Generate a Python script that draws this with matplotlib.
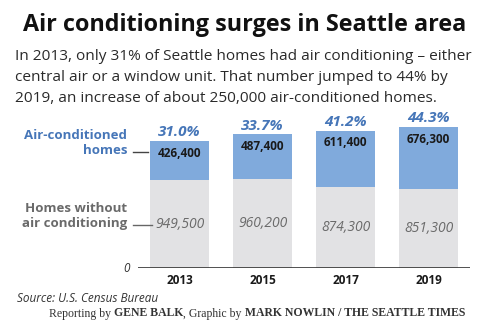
import matplotlib
matplotlib.use("Agg")
import matplotlib.pyplot as plt

years = ["2013", "2015", "2017", "2019"]
ac_homes = [426400, 487400, 611400, 676300]
no_ac_homes = [949500, 960200, 874300, 851300]
ac_pct = ["31.0%", "33.7%", "41.2%", "44.3%"]

BLUE = "#80aadc"
GRAY = "#e2e2e4"
BLUE_TXT = "#4676b8"
GRAY_TXT = "#6a6a6a"

W, H = 500, 328
fig = plt.figure(figsize=(W / 100, H / 100), dpi=100)

def fx(px):
    return px / W

def fy(py):
    return 1 - py / H

# axes: x from 138 to 470 px, baseline at y=268 px, scale 92.3 px per million
ymax = 1.6e6
ax_h = ymax * 92.3e-6
ax = fig.add_axes([fx(138), fy(268), (470 - 138) / W, ax_h / H])
ax.set_xlim(-0.5, 3.5)
ax.set_ylim(0, ymax)
for s in ax.spines.values():
    s.set_visible(False)
ax.set_xticks([])
ax.set_yticks([])
ax.axhline(0, color="#333333", lw=1.2, zorder=3)

x = list(range(len(years)))
ax.bar(x, no_ac_homes, width=0.72, color=GRAY, zorder=2)
ax.bar(x, ac_homes, width=0.72, bottom=no_ac_homes, color=BLUE, zorder=2)

font = "Open Sans"
for i in x:
    tot = no_ac_homes[i] + ac_homes[i]
    ax.text(i, tot + 0.02e6, ac_pct[i], ha="center", va="bottom", fontsize=11,
            fontweight="bold", style="italic", color=BLUE_TXT, family=font)
    ax.text(i, tot - 0.13e6, f"{ac_homes[i]:,}", ha="center", va="center", fontsize=8.5,
            fontweight="bold", color="#1a1a1a", family=font)
    ax.text(i, no_ac_homes[i] / 2, f"{no_ac_homes[i]:,}", ha="center", va="center",
            fontsize=10, style="italic", color=GRAY_TXT, family=font)
    ax.text(i, -0.07e6, years[i], ha="center", va="top", fontsize=8.5,
            fontweight="bold", color="#1a1a1a", family=font)

# zero label
fig.text(fx(130), fy(268), "0", ha="right", va="center", fontsize=8.5,
         style="italic", color="#333333", family=font)

# left labels with leader lines
fig.text(fx(127), fy(143), "Air-conditioned\nhomes", ha="right", va="center",
         fontsize=9.5, fontweight="bold", color=BLUE_TXT, family=font,
         linespacing=1.2, multialignment="right")
fig.text(fx(127), fy(216), "Homes without\nair conditioning", ha="right", va="center",
         fontsize=9.5, fontweight="bold", color=GRAY_TXT, family=font,
         linespacing=1.2, multialignment="right")
fig.add_artist(plt.Line2D([fx(133), fx(148)], [fy(152), fy(152)], color="#444444", lw=1))
fig.add_artist(plt.Line2D([fx(133), fx(152)], [fy(225), fy(225)], color="#666666", lw=1))

# title and subtitle
fig.text(fx(23), fy(25), "Air conditioning surges in Seattle area", ha="left", va="center",
         fontsize=16.8, fontweight="bold", color="#111111", family=font)
sub_lines = ["In 2013, only 31% of Seattle homes had air conditioning \u2013 either",
             "central air or a window unit. That number jumped to 44% by",
             "2019, an increase of about 250,000 air-conditioned homes."]
for k, line in enumerate(sub_lines):
    fig.text(fx(15), fy(57 + 20.5 * k), line, ha="left", va="center", fontsize=11.1,
             color="#2a2a2a", family=font)

fig.text(fx(17), fy(298), "Source: U.S. Census Bureau", ha="left", va="center",
         fontsize=8.5, style="italic", color="#333333", family=font)

# credit line with mixed weights
pieces = [("Reporting by ", "normal"), ("GENE BALK", "bold"), (", Graphic by ", "normal"),
          ("MARK NOWLIN / THE SEATTLE TIMES", "bold")]
renderer = fig.canvas.get_renderer()
xpos = fx(49)
for txt, wt in pieces:
    t = fig.text(xpos, fy(313.5), txt, ha="left", va="center", fontsize=8.5,
                 fontweight=wt, color="#333333", family="Liberation Serif")
    bb = t.get_window_extent(renderer=renderer)
    xpos += bb.width / W

fig.savefig("out.png", dpi=100)
